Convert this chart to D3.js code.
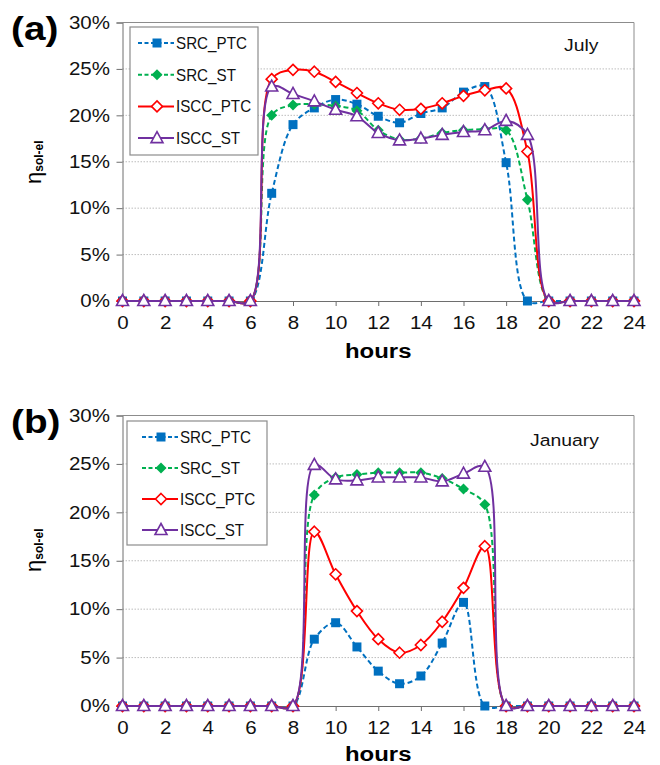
<!DOCTYPE html>
<meta charset="utf-8">
<style>
body { margin: 0; background: #fff; }
svg { display: block; font-family: "Liberation Sans", Arial, sans-serif; }
.grid line { stroke: #bdbdbd; stroke-dasharray: 1.5 1.5; }
.wide-r { transform-box: fill-box; transform-origin: 100% 50%; transform: scaleX(1.14); }
.wide-c { transform-box: fill-box; transform-origin: 50% 50%; transform: scaleX(1.14); }
.wide-l { transform-box: fill-box; transform-origin: 0% 50%; transform: scaleX(1.14); }
.narrow-l { transform-box: fill-box; transform-origin: 0% 50%; transform: scaleX(0.95); }
</style>
<script src="https://cdn.jsdelivr.net/npm/d3@7"></script>
<body>
<svg id="chart" width="660" height="765"></svg>
<script>

// hours 0..24
var hours = d3.range(0, 25);
var seriesNames = ["SRC_PTC", "SRC_ST", "ISCC_PTC", "ISCC_ST"];
var yTicks = [0, 5, 10, 15, 20, 25, 30];
var xTicks = [0, 2, 4, 6, 8, 10, 12, 14, 16, 18, 20, 22, 24];

// July (a)
var julySrcPtc  = [0,0,0,0,0,0,0, 11.6,19.0,20.8,21.7,21.2,19.9,19.2,20.2,20.8,22.5,23.1,14.9,0, 0,0,0,0,0];
var julySrcSt   = [0,0,0,0,0,0,0, 20.0,21.1,21.2,21.0,20.5,18.4,17.4,17.5,18.1,18.4,18.5,18.4,10.9, 0,0,0,0,0];
var julyIsccPtc = [0,0,0,0,0,0,0, 23.9,24.9,24.7,23.6,22.4,21.3,20.6,20.7,21.3,22.1,22.7,22.9,16.1, 0,0,0,0,0];
var julyIsccSt  = [0,0,0,0,0,0,0, 23.1,22.3,21.5,20.6,19.9,18.1,17.3,17.5,17.9,18.2,18.4,19.4,17.9, 0,0,0,0,0];

// January (b)
var janSrcPtc  = [0,0,0,0,0,0,0,0,0, 6.9,8.6,6.1,3.6,2.3,3.1,6.5,10.7,0, 0,0,0,0,0,0,0];
var janSrcSt   = [0,0,0,0,0,0,0,0,0, 21.8,23.6,23.9,24.1,24.1,24.1,23.5,22.4,20.8, 0,0,0,0,0,0,0];
var janIsccPtc = [0,0,0,0,0,0,0,0,0, 18.0,13.6,9.8,6.9,5.5,6.3,8.7,12.2,16.5, 0,0,0,0,0,0,0];
var janIsccSt  = [0,0,0,0,0,0,0,0,0, 24.9,23.4,23.3,23.6,23.6,23.6,23.2,24.0,24.7, 0,0,0,0,0,0,0];

var styles = {
  SRC_PTC:  { color: "#0070c0", dash: "5,3", marker: "square",  open: false },
  SRC_ST:   { color: "#00b050", dash: "5,3", marker: "diamond", open: false },
  ISCC_PTC: { color: "#ff0000", dash: null,  marker: "diamond", open: true },
  ISCC_ST:  { color: "#7030a0", dash: null,  marker: "triangle", open: true }
};

var svg = d3.select("#chart");

function markerPath(type) {
  if (type === "square") return "M-4.5,-4.5H4.5V4.5H-4.5Z";
  if (type === "diamond") return "M0,-5.5L5.5,0L0,5.5L-5.5,0Z";
  return "M0,-6.5L6,4.5H-6Z";
}

function drawPanel(opts) {
  var g = svg.append("g");
  var x = d3.scaleLinear().domain([0, 24]).range([122.5, 634]);
  var y = d3.scaleLinear().domain([0, 30]).range([opts.y0, opts.y30]);

  // grid
  g.append("g").attr("class", "grid")
    .selectAll("line").data([5, 10, 15, 20, 25]).enter().append("line")
    .attr("x1", x(0)).attr("x2", x(24))
    .attr("y1", d => y(d)).attr("y2", d => y(d));

  // plot border (top, right)
  g.append("path")
    .attr("d", "M" + x(0) + "," + y(30) + "H" + x(24) + "V" + y(0))
    .attr("fill", "none").attr("stroke", "#8c8c8c").attr("stroke-width", 1);

  // y axis
  var yAxis = g.append("g").attr("transform", "translate(" + x(0) + ",0)")
    .call(d3.axisLeft(y).tickValues(yTicks).tickSize(6).tickFormat(d => d + "%"));
  yAxis.select(".domain").attr("stroke", "#6e6e6e");
  yAxis.selectAll(".tick line").attr("stroke", "#6e6e6e");
  yAxis.selectAll("text").attr("font-size", 18).attr("fill", "#111").attr("x", -12.5)
    .attr("font-family", "Liberation Sans, Arial, sans-serif").attr("class", "wide-r");

  // x axis
  var xAxis = g.append("g").attr("transform", "translate(0," + y(0) + ")")
    .call(d3.axisBottom(x).tickValues(xTicks).tickSize(5).tickSizeOuter(0));
  xAxis.select(".domain").attr("stroke", "#6e6e6e");
  xAxis.selectAll(".tick line").attr("stroke", "#6e6e6e");
  xAxis.selectAll("text").attr("font-size", 18).attr("fill", "#111").attr("y", 15)
    .attr("font-family", "Liberation Sans, Arial, sans-serif").attr("class", "wide-c");

  // axis titles
  g.append("text").attr("x", (x(0) + x(24)) / 2).attr("y", y(0) + opts.hoursDy)
    .attr("text-anchor", "middle").attr("font-size", 21).attr("font-weight", "bold")
    .attr("class", "wide-c").text("hours");

  var yl = g.append("text")
    .attr("transform", "translate(41," + opts.yLabelY + ") rotate(-90)");
  yl.append("tspan").attr("font-size", 22).text("η");
  yl.append("tspan").attr("font-size", 12).attr("font-weight", "bold").attr("dy", 2).text("sol-el");

  g.append("text").attr("x", 11).attr("y", opts.y30 + 18)
    .attr("font-size", 34).attr("font-weight", "bold").attr("class", "wide-l").text(opts.panel);

  g.append("text").attr("x", opts.monthX).attr("y", opts.monthY)
    .attr("font-size", 17).attr("fill", "#111").attr("class", "wide-l").text(opts.month);

  // series
  var line = d3.line().x((d, i) => x(hours[i])).y(d => y(d)).curve(d3.curveCatmullRom.alpha(0.5));
  opts.data.forEach(function(vals, k) {
    var st = styles[seriesNames[k]];
    g.append("path").attr("d", line(vals)).attr("fill", "none")
      .attr("stroke", st.color).attr("stroke-width", 2)
      .attr("stroke-dasharray", st.dash);
    g.selectAll(null).data(vals).enter().append("path")
      .attr("transform", (d, i) => "translate(" + x(hours[i]) + "," + y(d) + ")")
      .attr("d", markerPath(st.marker))
      .attr("fill", st.open ? "#fff" : st.color)
      .attr("stroke", st.color).attr("stroke-width", st.open ? 1.6 : 0);
  });

  // legend
  var lg = g.append("g");
  lg.append("rect").attr("x", opts.legend.x).attr("y", opts.legend.y)
    .attr("width", opts.legend.w).attr("height", opts.legend.h)
    .attr("fill", "#fff").attr("stroke", "#8c8c8c").attr("stroke-width", 1.2);
  seriesNames.forEach(function(name, k) {
    var st = styles[name];
    var cy = opts.legend.y + 16 + k * opts.legend.step;
    var lx = opts.legend.lineX;
    lg.append("line").attr("x1", lx).attr("x2", lx + 36).attr("y1", cy).attr("y2", cy)
      .attr("stroke", st.color).attr("stroke-width", 2).attr("stroke-dasharray", st.dash ? "4,2.5" : null);
    lg.append("path").attr("transform", "translate(" + (lx + 19) + "," + cy + ")")
      .attr("d", markerPath(st.marker))
      .attr("fill", st.open ? "#fff" : st.color)
      .attr("stroke", st.color).attr("stroke-width", st.open ? 1.6 : 0);
    lg.append("text").attr("x", lx + 38).attr("y", cy + 6).attr("font-size", 16)
      .attr("fill", "#111").attr("class", "narrow-l").text(name);
  });
}

drawPanel({
  panel: "(a)", month: "July", monthX: 564, monthY: 51,
  y0: 301, y30: 22.5, yLabelY: 184, hoursDy: 57,
  legend: { x: 130, y: 27, w: 128, h: 128, step: 31.7, lineX: 138 },
  data: [julySrcPtc, julySrcSt, julyIsccPtc, julyIsccSt]
});

drawPanel({
  panel: "(b)", month: "January", monthX: 530, monthY: 446,
  y0: 706, y30: 415.5, yLabelY: 572, hoursDy: 55,
  legend: { x: 127, y: 421, w: 140, h: 124, step: 31, lineX: 142 },
  data: [janSrcPtc, janSrcSt, janIsccPtc, janIsccSt]
});

</script>
</body>
